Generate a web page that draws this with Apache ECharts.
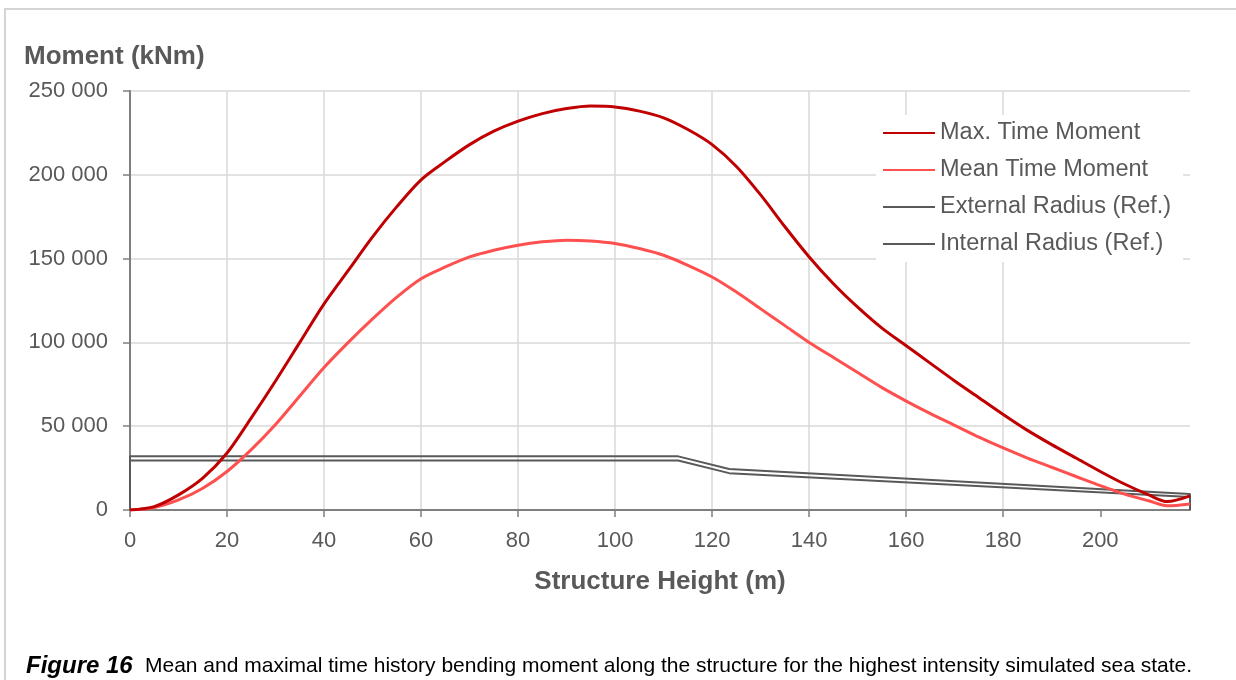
<!DOCTYPE html>
<html>
<head>
<meta charset="utf-8">
<script src="https://cdn.jsdelivr.net/npm/echarts@6/dist/echarts.min.js"></script>
<style>
  html, body { margin: 0; padding: 0; background: #fff; }
  #frame { position: absolute; left: 4px; top: 8px; width: 1300px; height: 700px;
           border-left: 2px solid #d4d4d4; border-top: 2px solid #d4d4d4; }
  #chart { position: absolute; left: 0; top: 0; width: 1236px; height: 680px; }
  .cap { position: absolute; top: 653px; font: 21px/24px "Liberation Sans", Arial, sans-serif;
         color: #000; white-space: nowrap; }
  #capLabel { left: 26px; font-size: 24px; font-weight: bold; font-style: italic; }
  #capText { left: 145px; }
</style>
</head>
<body>
<div id="frame"></div>
<div id="chart"></div>
<div class="cap" id="capLabel">Figure 16</div>
<div class="cap" id="capText">Mean and maximal time history bending moment along the structure for the highest intensity simulated sea state.</div>
<script>
// x = structure height (m), y = moment (kNm)
var maxMoment = [
  [0, 0], [5, 2000], [10, 9000], [15, 19000], [20, 34000], [25, 55000], [30, 77000],
  [35, 100000], [40, 123000], [45, 143000], [50, 163000], [55, 181000], [60, 197000],
  [65, 208000], [70, 218000], [75, 226000], [80, 232000], [85, 236500], [90, 239500],
  [95, 241000], [100, 240500], [105, 238000], [110, 234000], [115, 227000], [120, 218000],
  [125, 205000], [130, 188000], [135, 169000], [140, 151000], [145, 135000], [150, 121000],
  [155, 108500], [160, 98000], [165, 87500], [170, 77000], [175, 67000], [180, 57000],
  [185, 47500], [190, 39000], [195, 31000], [200, 23000], [205, 15500], [210, 9000],
  [213.8, 5000], [218.5, 8400]
];
var meanMoment = [
  [0, 0], [5, 1500], [10, 6000], [15, 13000], [20, 23000], [25, 36000], [30, 51000],
  [35, 68000], [40, 85000], [45, 100000], [50, 114000], [55, 127000], [60, 138000],
  [65, 145000], [70, 151000], [75, 155000], [80, 158000], [85, 160000], [90, 161000],
  [95, 160500], [100, 159000], [105, 156000], [110, 152000], [115, 146000], [120, 139000],
  [125, 130000], [130, 120000], [135, 110000], [140, 100000], [145, 91000], [150, 82000],
  [155, 73000], [160, 65000], [165, 57500], [170, 50500], [175, 43500], [180, 37000],
  [185, 31000], [190, 25500], [195, 20000], [200, 14500], [205, 9500], [210, 5500],
  [213.8, 2500], [218.5, 3600]
];
var externalRadius = [[0, 0], [0, 32000], [113, 32000], [123.5, 24500], [218.5, 9500], [218.5, 0]];
var internalRadius = [[0, 0], [0, 29500], [113, 29500], [123.5, 22000], [218.5, 7800], [218.5, 0]];
var xTicks = [0, 20, 40, 60, 80, 100, 120, 140, 160, 180, 200];

var FONT = '"Liberation Sans", Arial, sans-serif';
var GREY = '#595959';

var chart = echarts.init(document.getElementById('chart'));
chart.setOption({
  animation: false,
  textStyle: { fontFamily: FONT },
  title: {
    text: 'Moment (kNm)', left: 19, top: 39,
    textStyle: { fontFamily: FONT, fontSize: 26, fontWeight: 'bold', color: GREY }
  },
  grid: { left: 130, right: 46, top: 91, bottom: 170 },
  legend: {
    orient: 'vertical', left: 876, top: 115,
    backgroundColor: '#fff', padding: [6, 12, 6, 6],
    itemWidth: 52, itemHeight: 14, itemGap: 13,
    itemStyle: { opacity: 0 },
    textStyle: { fontFamily: FONT, fontSize: 23.5, lineHeight: 24, color: GREY },
    data: ['Max. Time Moment', 'Mean Time Moment', 'External Radius (Ref.)', 'Internal Radius (Ref.)']
  },
  xAxis: {
    type: 'value', min: 0, max: 218.5, interval: 20,
    name: 'Structure Height (m)', nameLocation: 'middle', nameGap: 59,
    nameTextStyle: { fontFamily: FONT, fontSize: 26, fontWeight: 'bold', color: GREY },
    axisLine: { show: true, lineStyle: { color: '#7f7f7f', width: 2 } },
    axisTick: { show: true, length: 7, customValues: xTicks, lineStyle: { color: '#7f7f7f', width: 1.5 } },
    axisLabel: { customValues: xTicks, margin: 20, fontSize: 22, color: GREY, fontFamily: FONT },
    splitLine: { show: true, showMaxLine: false, lineStyle: { color: '#d9d9d9', width: 1.5 } }
  },
  yAxis: {
    type: 'value', min: 0, max: 250000, interval: 50000,
    axisLine: { show: true, lineStyle: { color: '#7f7f7f', width: 2 } },
    axisTick: { show: true, length: 7, lineStyle: { color: '#7f7f7f', width: 1.5 } },
    axisLabel: {
      margin: 22, fontSize: 22, color: GREY, fontFamily: FONT,
      formatter: function (v) { return String(v).replace(/\B(?=(\d{3})+(?!\d))/g, ' '); }
    },
    splitLine: { show: true, lineStyle: { color: '#d9d9d9', width: 1.5 } }
  },
  series: [
    { name: 'External Radius (Ref.)', type: 'line', data: externalRadius, symbol: 'none', clip: false,
      lineStyle: { color: GREY, width: 2 }, itemStyle: { color: GREY }, z: 2 },
    { name: 'Internal Radius (Ref.)', type: 'line', data: internalRadius, symbol: 'none', clip: false,
      lineStyle: { color: GREY, width: 2 }, itemStyle: { color: GREY }, z: 2 },
    { name: 'Mean Time Moment', type: 'line', data: meanMoment, symbol: 'none', smooth: 0.3,
      lineStyle: { color: '#ff5050', width: 3 }, itemStyle: { color: '#ff5050' }, z: 3 },
    { name: 'Max. Time Moment', type: 'line', data: maxMoment, symbol: 'none', smooth: 0.3,
      lineStyle: { color: '#c00000', width: 3 }, itemStyle: { color: '#c00000' }, z: 4 }
  ]
});
</script>
</body>
</html>
